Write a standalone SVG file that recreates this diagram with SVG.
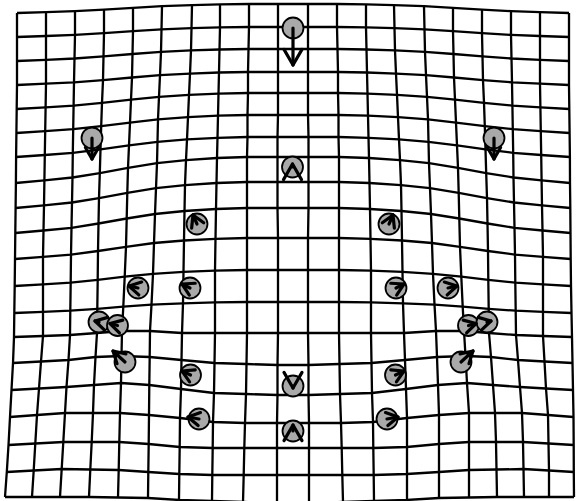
<svg xmlns="http://www.w3.org/2000/svg" width="577" height="501" viewBox="0 0 577 501">
<style>
.g{fill:none;stroke:#000;stroke-width:2.3;stroke-linejoin:round}
.lm{fill:#a9a9a9;stroke:#000;stroke-width:1.8}
.ar{fill:none;stroke:#000;stroke-width:3.2;stroke-linecap:round}
.arS{marker-end:url(#hs)}
.arB{marker-end:url(#hb)}
</style>
<defs>
<marker id="hs" markerUnits="userSpaceOnUse" orient="auto" viewBox="-20 -20 40 40" markerWidth="40" markerHeight="40" refX="0" refY="0" overflow="visible"><path d="M-11.5,-6.6 L0,0 L-11.5,6.6" fill="none" stroke="#000" stroke-width="3.2" stroke-linecap="round" stroke-linejoin="round"/></marker>
<marker id="hb" markerUnits="userSpaceOnUse" orient="auto" viewBox="-20 -20 40 40" markerWidth="40" markerHeight="40" refX="0" refY="0" overflow="visible"><path d="M-15.6,-9 L0,0 L-15.6,9" fill="none" stroke="#000" stroke-width="3.2" stroke-linecap="round" stroke-linejoin="round"/></marker>
</defs>
<rect width="577" height="501" fill="#fff"/>
<g id="grid">
<polyline class="g" points="17,13 46,12.1 75,11.1 104,9.6 133,7.8 162,6.2 192,5.1 220,4.4 249,4 278,4 308,4 337,4 366,4.4 394,5.1 424,6.2 453,7.8 482,9.6 511,11.1 540,12.1 569,13"/>
<polyline class="g" points="17,37 46,36 75,34.9 104,33.2 133,31.2 161.5,29.4 191.5,28.2 220,27.4 249,27 278,27 308,27 337,27 366,27.4 394.5,28.2 424.5,29.4 453,31.2 482,33.2 511,34.9 540,36 569,37"/>
<polyline class="g" points="17,61 46,59.8 74.5,58.5 103.5,56.4 132.5,54 161,51.9 191,50.4 219.5,49.5 248.5,49 278,49 308,49 337.5,49 366.5,49.5 395,50.4 425,51.9 453.5,54 482.5,56.4 511.5,58.5 540,59.8 569,61"/>
<polyline class="g" points="17,85 46,83.7 74,82.3 103,80.1 132,77.5 160,75.1 190,73.6 219,72.5 248,72 278,72 308,72 338,72 367,72.5 396,73.6 426,75.1 454,77.5 483,80.1 512,82.3 540,83.7 569,85"/>
<polyline class="g" points="16.7,109 45.6,107.4 73.6,105.6 102,102.9 131,99.7 159,96.8 189,94.9 218.5,93.6 248,93 278,93 308,93 338,93 367.5,93.6 397,94.9 427,96.8 455,99.7 484,102.9 512.4,105.6 540.4,107.4 569.3,109"/>
<polyline class="g" points="16.4,133 45.2,131.2 73.2,129.2 101.2,126.2 130,122.6 158,119.3 188,117.2 218,115.7 247.5,115 278,115 308,115 338.5,115 368,115.7 398,117.2 428,119.3 456,122.6 484.8,126.2 512.8,129.2 540.8,131.2 569.6,133"/>
<polyline class="g" points="16.1,157 44.8,155 72.8,152.8 100.5,149.4 129,145.4 157.5,141.8 187,139.4 217.5,137.8 247.5,137 277.5,137 308.5,137 338.5,137 368.5,137.8 399,139.4 428.5,141.8 457,145.4 485.5,149.4 513.2,152.8 541.2,155 569.9,157"/>
<polyline class="g" points="15.9,183 44.4,180.4 72.5,177.5 99.8,173.1 128,167.9 157,163.2 186,160.1 217,158 247,157 277.5,157 308.5,157 339,157 369,158 400,160.1 429,163.2 458,167.9 486.2,173.1 513.5,177.5 541.6,180.4 570,183"/>
<polyline class="g" points="15.6,208 44,205.4 72,202.5 99,198.1 127.3,192.9 156,188.2 185,185.1 216.5,183 247,182 277.5,182 308.5,182 339,182 369.5,183 401,185.1 430,188.2 458.7,192.9 487,198.1 514,202.5 542,205.4 570.3,208"/>
<polyline class="g" points="15.3,233 43.5,230.5 71.5,227.8 98.5,223.5 126.7,218.5 155,214 184.5,211 216,209 247,208 277.5,208 308.5,208 339,208 370,209 401.5,211 431,214 459.3,218.5 487.5,223.5 514.5,227.8 542.5,230.5 570.5,233"/>
<polyline class="g" points="15,259 43,256.9 71,254.6 98,251 126,246.8 154,243 184,240.5 215.5,238.8 247,238 278,238 308,238 339,238 370.5,238.8 402,240.5 432,243 460,246.8 488,251 515,254.6 543,256.9 570.7,259"/>
<polyline class="g" points="14.7,286 43,284.4 70.7,282.6 97.7,279.9 124.7,276.7 153,273.8 183.5,271.9 215,270.6 247,270 278,270 308,270 339,270 371,270.6 402.5,271.9 433,273.8 461.3,276.7 488.3,279.9 515.3,282.6 543,284.4 571,286"/>
<polyline class="g" points="14.3,313 43,311.9 70.3,310.7 97.3,308.8 123.3,306.6 151.5,304.6 183,303.3 215,302.4 247,302 278,302 308,302 339,302 371,302.4 403,303.3 434.5,304.6 462.7,306.6 488.7,308.8 515.7,310.7 543,311.9 571.5,313"/>
<polyline class="g" points="14,337 43,336 70,335 97,333 122,331 150,331 182,333 215,333 247,333 278,333 308,333 339,333 371,333 404,333 436,331 464,331 489,333 516,335 543,336 572,337"/>
<polyline class="g" points="13,363 41,361.5 68.5,360 95.5,357 121.5,356 149.7,357 181.5,360 214.5,363 246.5,364 277.5,365 308.5,365 339.5,364 371.5,363 405,360 437,357 465.5,356 491,357 518,360 544.5,361.5 572.5,363"/>
<polyline class="g" points="11.5,390 39,388.5 66.5,387 94,385 121,383 149.3,385 181,389 214,393 246,394 277.5,395 308.5,395 340,394 372,393 406,389 438,385 467,383 493,385 520,387 546,388.5 573,390"/>
<polyline class="g" points="10,417 37,415 65,413 93,413 120,413 149,415 180,418 213,422 245,423 277,423 309,423 341,423 373,422 407,418 439,415 469,413 495,413 522,413 548,415 573.5,417"/>
<polyline class="g" points="8.5,445 35.3,443.5 63.3,442 91.7,442 119.3,442 148.7,444 179.7,447 212.7,448 244.3,448 277,448 309,448 341.7,448 373.3,448 407,447 439,444 469,442 496,442 523,442 548.5,443.5 573.7,445"/>
<polyline class="g" points="6.8,472 33.7,470.5 61.7,469 90.3,469.5 118.7,470 148.3,472 179.3,474 212.3,475 243.7,475 277,475 309,475 342.3,475 373.7,475 407,474 439,472 469,470 496.5,469.5 523.5,469 549,470.5 573.8,472"/>
<polyline class="g" points="5,497 32,497 60,497 89,497 118,497.5 148,498 179,500 212,501 243,502 277,503 309,503 343,502 374,501 407,500 439,498 469,497.5 497,497 524,497 549,497 574,497"/>
<polyline class="g" points="17,13 17,37 17,61 17,85 16.7,109 16.4,133 16.1,157 15.9,183 15.6,208 15.3,233 15,259 14.7,286 14.3,313 14,337 13,363 11.5,390 10,417 8.5,445 6.8,472 5,497"/>
<polyline class="g" points="46,12.1 46,36 46,59.8 46,83.7 45.6,107.4 45.2,131.2 44.8,155 44.4,180.4 44,205.4 43.5,230.5 43,256.9 43,284.4 43,311.9 43,336 41,361.5 39,388.5 37,415 35.3,443.5 33.7,470.5 32,497"/>
<polyline class="g" points="75,11.1 75,34.9 74.5,58.5 74,82.3 73.6,105.6 73.2,129.2 72.8,152.8 72.5,177.5 72,202.5 71.5,227.8 71,254.6 70.7,282.6 70.3,310.7 70,335 68.5,360 66.5,387 65,413 63.3,442 61.7,469 60,497"/>
<polyline class="g" points="104,9.6 104,33.2 103.5,56.4 103,80.1 102,102.9 101.2,126.2 100.5,149.4 99.8,173.1 99,198.1 98.5,223.5 98,251 97.7,279.9 97.3,308.8 97,333 95.5,357 94,385 93,413 91.7,442 90.3,469.5 89,497"/>
<polyline class="g" points="133,7.8 133,31.2 132.5,54 132,77.5 131,99.7 130,122.6 129,145.4 128,167.9 127.3,192.9 126.7,218.5 126,246.8 124.7,276.7 123.3,306.6 122,331 121.5,356 121,383 120,413 119.3,442 118.7,470 118,497.5"/>
<polyline class="g" points="162,6.2 161.5,29.4 161,51.9 160,75.1 159,96.8 158,119.3 157.5,141.8 157,163.2 156,188.2 155,214 154,243 153,273.8 151.5,304.6 150,331 149.7,357 149.3,385 149,415 148.7,444 148.3,472 148,498"/>
<polyline class="g" points="192,5.1 191.5,28.2 191,50.4 190,73.6 189,94.9 188,117.2 187,139.4 186,160.1 185,185.1 184.5,211 184,240.5 183.5,271.9 183,303.3 182,333 181.5,360 181,389 180,418 179.7,447 179.3,474 179,500"/>
<polyline class="g" points="220,4.4 220,27.4 219.5,49.5 219,72.5 218.5,93.6 218,115.7 217.5,137.8 217,158 216.5,183 216,209 215.5,238.8 215,270.6 215,302.4 215,333 214.5,363 214,393 213,422 212.7,448 212.3,475 212,501"/>
<polyline class="g" points="249,4 249,27 248.5,49 248,72 248,93 247.5,115 247.5,137 247,157 247,182 247,208 247,238 247,270 247,302 247,333 246.5,364 246,394 245,423 244.3,448 243.7,475 243,502"/>
<polyline class="g" points="278,4 278,27 278,49 278,72 278,93 278,115 277.5,137 277.5,157 277.5,182 277.5,208 278,238 278,270 278,302 278,333 277.5,365 277.5,395 277,423 277,448 277,475 277,503"/>
<polyline class="g" points="308,4 308,27 308,49 308,72 308,93 308,115 308.5,137 308.5,157 308.5,182 308.5,208 308,238 308,270 308,302 308,333 308.5,365 308.5,395 309,423 309,448 309,475 309,503"/>
<polyline class="g" points="337,4 337,27 337.5,49 338,72 338,93 338.5,115 338.5,137 339,157 339,182 339,208 339,238 339,270 339,302 339,333 339.5,364 340,394 341,423 341.7,448 342.3,475 343,502"/>
<polyline class="g" points="366,4.4 366,27.4 366.5,49.5 367,72.5 367.5,93.6 368,115.7 368.5,137.8 369,158 369.5,183 370,209 370.5,238.8 371,270.6 371,302.4 371,333 371.5,363 372,393 373,422 373.3,448 373.7,475 374,501"/>
<polyline class="g" points="394,5.1 394.5,28.2 395,50.4 396,73.6 397,94.9 398,117.2 399,139.4 400,160.1 401,185.1 401.5,211 402,240.5 402.5,271.9 403,303.3 404,333 405,360 406,389 407,418 407,447 407,474 407,500"/>
<polyline class="g" points="424,6.2 424.5,29.4 425,51.9 426,75.1 427,96.8 428,119.3 428.5,141.8 429,163.2 430,188.2 431,214 432,243 433,273.8 434.5,304.6 436,331 437,357 438,385 439,415 439,444 439,472 439,498"/>
<polyline class="g" points="453,7.8 453,31.2 453.5,54 454,77.5 455,99.7 456,122.6 457,145.4 458,167.9 458.7,192.9 459.3,218.5 460,246.8 461.3,276.7 462.7,306.6 464,331 465.5,356 467,383 469,413 469,442 469,470 469,497.5"/>
<polyline class="g" points="482,9.6 482,33.2 482.5,56.4 483,80.1 484,102.9 484.8,126.2 485.5,149.4 486.2,173.1 487,198.1 487.5,223.5 488,251 488.3,279.9 488.7,308.8 489,333 491,357 493,385 495,413 496,442 496.5,469.5 497,497"/>
<polyline class="g" points="511,11.1 511,34.9 511.5,58.5 512,82.3 512.4,105.6 512.8,129.2 513.2,152.8 513.5,177.5 514,202.5 514.5,227.8 515,254.6 515.3,282.6 515.7,310.7 516,335 518,360 520,387 522,413 523,442 523.5,469 524,497"/>
<polyline class="g" points="540,12.1 540,36 540,59.8 540,83.7 540.4,107.4 540.8,131.2 541.2,155 541.6,180.4 542,205.4 542.5,230.5 543,256.9 543,284.4 543,311.9 543,336 544.5,361.5 546,388.5 548,415 548.5,443.5 549,470.5 549,497"/>
<polyline class="g" points="569,13 569,37 569,61 569,85 569.3,109 569.6,133 569.9,157 570,183 570.3,208 570.5,233 570.7,259 571,286 571.5,313 572,337 572.5,363 573,390 573.5,417 573.7,445 573.8,472 574,497"/>
</g>
<g id="lm-a"><circle class="lm" cx="293" cy="28" r="10.5"/></g>
<g id="lm-b"><circle class="lm" cx="92" cy="138" r="10.5"/></g>
<g id="lm-c"><circle class="lm" cx="494" cy="138" r="10.5"/></g>
<g id="lm-d"><circle class="lm" cx="292.5" cy="167" r="10.5"/></g>
<g id="lm-e"><circle class="lm" cx="197" cy="224" r="10.5"/></g>
<g id="lm-f"><circle class="lm" cx="389" cy="224" r="10.5"/></g>
<g id="lm-g"><circle class="lm" cx="138" cy="288" r="10.5"/></g>
<g id="lm-h"><circle class="lm" cx="190" cy="288" r="10.5"/></g>
<g id="lm-i"><circle class="lm" cx="396" cy="288" r="10.5"/></g>
<g id="lm-j"><circle class="lm" cx="448" cy="288" r="10.5"/></g>
<g id="lm-k1"><circle class="lm" cx="99" cy="322" r="10.5"/></g>
<g id="lm-k2"><circle class="lm" cx="117.5" cy="325.5" r="10.5"/></g>
<g id="lm-l2"><circle class="lm" cx="468.5" cy="325.5" r="10.5"/></g>
<g id="lm-l1"><circle class="lm" cx="487" cy="322" r="10.5"/></g>
<g id="lm-m"><circle class="lm" cx="125" cy="362" r="10.5"/></g>
<g id="lm-n"><circle class="lm" cx="461" cy="362" r="10.5"/></g>
<g id="lm-o"><circle class="lm" cx="190.5" cy="375" r="10.5"/></g>
<g id="lm-p"><circle class="lm" cx="395.5" cy="375" r="10.5"/></g>
<g id="lm-q"><circle class="lm" cx="199" cy="419" r="10.5"/></g>
<g id="lm-r"><circle class="lm" cx="387" cy="419" r="10.5"/></g>
<g id="lm-s"><circle class="lm" cx="293" cy="386" r="10.5"/></g>
<g id="lm-t"><circle class="lm" cx="293" cy="431" r="10.5"/></g>
<g id="arrows">
<line class="ar arB" x1="293" y1="28" x2="293" y2="65"/>
<line class="ar arS" x1="92" y1="138" x2="92" y2="159"/>
<line class="ar arS" x1="494" y1="138" x2="494" y2="159"/>
<line class="ar arB" x1="292.5" y1="167" x2="292.5" y2="164"/>
<line class="ar arS" x1="197" y1="224" x2="193" y2="215"/>
<line class="ar arS" x1="389" y1="224" x2="393" y2="215"/>
<line class="ar arS" x1="138" y1="288" x2="129" y2="286"/>
<line class="ar arS" x1="190" y1="288" x2="182" y2="284"/>
<line class="ar arS" x1="396" y1="288" x2="404" y2="284"/>
<line class="ar arS" x1="448" y1="288" x2="457" y2="286"/>
<line class="ar arS" x1="99" y1="322" x2="95" y2="321"/>
<line class="ar arS" x1="117.5" y1="325.5" x2="110" y2="323.5"/>
<line class="ar arS" x1="468.5" y1="325.5" x2="476" y2="323.5"/>
<line class="ar arS" x1="487" y1="322" x2="491" y2="321"/>
<line class="ar arS" x1="125" y1="362" x2="113" y2="351"/>
<line class="ar arS" x1="461" y1="362" x2="473" y2="351"/>
<line class="ar arS" x1="190.5" y1="375" x2="182" y2="371"/>
<line class="ar arS" x1="395.5" y1="375" x2="404" y2="371"/>
<line class="ar arS" x1="199" y1="419" x2="188" y2="417"/>
<line class="ar arS" x1="387" y1="419" x2="398" y2="417"/>
<line class="ar arB" x1="293" y1="386" x2="293" y2="388"/>
<line class="ar arB" x1="293" y1="431" x2="293" y2="425"/>
</g>
</svg>
